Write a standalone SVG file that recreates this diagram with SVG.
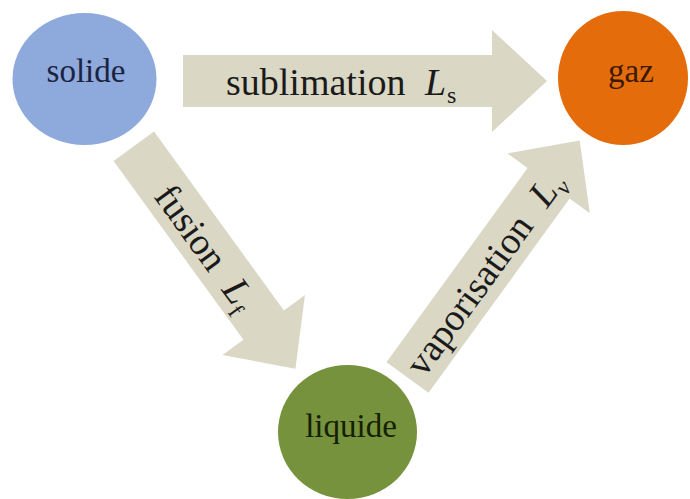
<svg xmlns="http://www.w3.org/2000/svg" width="690" height="499" viewBox="0 0 690 499">
  <style>
    .arrow { fill: #DAD7C5; }
    .lbl { font-family: "Liberation Serif", "Times New Roman", serif; font-size: 38px; fill: #1a1a1a; }
    .it { font-style: italic; }
    .sub { font-size: 24px; }
    .node-text { font-family: "Liberation Serif", "Times New Roman", serif; font-size: 33px; text-anchor: middle; }
  </style>
  <rect width="690" height="499" fill="#ffffff"/>
  <g id="connectors">
    <g id="sublimation">
      <polygon class="arrow" points="183,55 492,55 492,30 547,81 492,132 492,107 183,107"/>
      <text class="lbl" x="226" y="95">sublimation<tspan class="it" x="425">L</tspan><tspan class="sub" x="447" dy="8">s</tspan></text>
    </g>
    <g id="fusion" transform="translate(133.8,146.3) rotate(54)">
      <polygon class="arrow" points="0,-25 221,-25 221,-51 275,0 221,51 221,25 0,25"/>
      <text class="lbl" x="52" y="14">fusion<tspan class="it" x="167">L</tspan><tspan class="sub" x="189" dy="8">f</tspan></text>
    </g>
    <g id="vaporisation" transform="translate(407.5,377.5) rotate(-54)">
      <polygon class="arrow" points="0,-26 240,-26 240,-51 293,0 240,51 240,26 0,26"/>
      <text class="lbl" x="9" y="14">vaporisation<tspan class="it" x="218">L</tspan><tspan class="sub it" x="240" dy="8">v</tspan></text>
    </g>
  </g>
  <g id="solide">
    <ellipse cx="84.5" cy="79" rx="72" ry="66" fill="#8EA9DB"/>
    <text class="node-text" x="86" y="82" fill="#1B2340">solide</text>
  </g>
  <g id="gaz">
    <ellipse cx="623" cy="78" rx="65" ry="67" fill="#E46C0A"/>
    <text class="node-text" x="631" y="82" fill="#3A1A00">gaz</text>
  </g>
  <g id="liquide">
    <ellipse cx="347.5" cy="432" rx="69.5" ry="67" fill="#76923C"/>
    <text class="node-text" x="351" y="437" fill="#142000">liquide</text>
  </g>
</svg>
